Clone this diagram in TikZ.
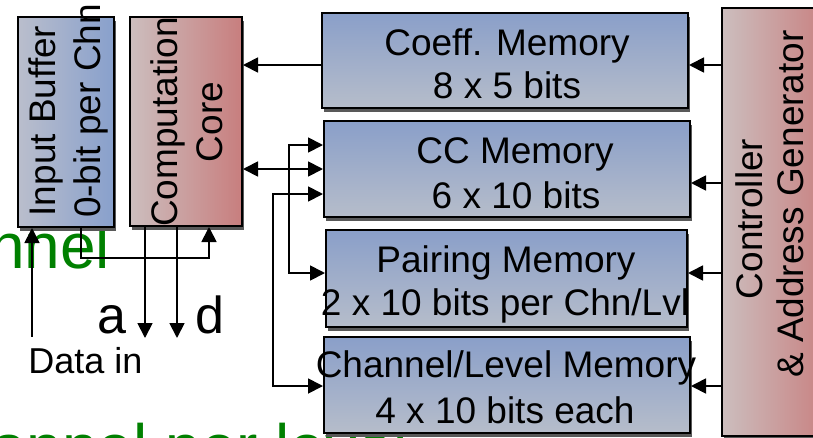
\documentclass[tikz,border=0pt]{standalone}
\usepackage{fontspec}
\setmainfont{Liberation Sans}
\usetikzlibrary{arrows.meta,shadows,calc}
\definecolor{memtop}{RGB}{138,159,201}
\definecolor{membot}{RGB}{182,189,202}
\definecolor{bufl}{RGB}{186,190,204}
\definecolor{bufr}{RGB}{136,160,204}
\definecolor{redl}{RGB}{204,190,190}
\definecolor{redr}{RGB}{200,126,126}
\definecolor{bggreen}{RGB}{0,128,0}
\definecolor{hiblue}{RGB}{200,218,248}
\definecolor{hired}{RGB}{250,205,205}
\tikzset{
 blk/.style={draw=black, line width=2pt, inner sep=0pt, drop shadow={shadow xshift=2pt, shadow yshift=-4pt, fill=black!65, opacity=1}},
 hilite/.style={path picture={\draw[line width=2.5pt, #1] (path picture bounding box.north west) -- (path picture bounding box.north east);}},
 mem/.style={blk, top color=memtop, bottom color=membot, hilite=hiblue},
 bluev/.style={blk, left color=bufl, right color=bufr, hilite=hiblue},
 redv/.style={blk, left color=redl, right color=redr, hilite=hired},
 txt/.style={font=\fontsize{37}{44}\selectfont, inner sep=0pt, anchor=base},
 vtxt/.style={txt, rotate=90},
 lbl/.style={font=\fontsize{52}{60}\selectfont, inner sep=0pt, anchor=base},
 arr/.style={line width=1.8pt, -{Triangle[length=15pt,width=15pt]}},
 darr/.style={line width=1.8pt, {Triangle[length=15pt,width=15pt]}-{Triangle[length=15pt,width=15pt]}},
 bgtxt/.style={font=\fontsize{64}{70}\selectfont, text=bggreen, inner sep=0pt, anchor=base west}
}
\begin{document}
\begin{tikzpicture}[x=1pt,y=-1pt]
\useasboundingbox (0,0) rectangle (813,437);
\clip (0,0) rectangle (813,437);
% background text
\node[bgtxt] (g1) at (-11,268) {nnel};
\node[bgtxt] (g2) at (-9,469) {annel per level};
% boxes
\node[bluev, minimum width=96pt, minimum height=210pt] (inbuf) at (66,122) {};
\node[redv, minimum width=112pt, minimum height=209pt] (core) at (186,121.5) {};
\node[mem, minimum width=366pt, minimum height=95pt] (coeff) at (505,60.5) {};
\node[mem, minimum width=366pt, minimum height=96pt] (cc) at (507,169) {};
\node[mem, minimum width=361pt, minimum height=97pt] (pair) at (506.5,278.5) {};
\node[mem, minimum width=366pt, minimum height=96pt] (chan) at (507,385) {};
\node[redv, minimum width=110pt, minimum height=428pt] (ctrl) at (777,222) {};
% vertical texts
\node[vtxt] (t1) at (55,121) {Input Buffer};
\node[vtxt] (t2) at (100,111) {0-bit per Chn};
\node[vtxt] (t3) at (177,122) {Computation};
\node[vtxt] (t4) at (222,122) {Core};
\node[vtxt] (t5) at (762,219) {Controller};
\node[vtxt] (t6) at (803,204) {\& Address Generator};
% memory texts
\node[txt] (t7) at (507,55) {Coeff. Memory};
\node[txt] (t8) at (507,98) {8 x 5 bits};
\node[txt] (t9) at (515,163) {CC Memory};
\node[txt] (t10) at (516,208) {6 x 10 bits};
\node[txt] (t11) at (506,272) {Pairing Memory};
\node[txt] (t12) at (505,315) {2 x 10 bits per Chn/Lvl};
\node[txt] (t13) at (506,377) {Channel/Level Memory};
\node[txt] (t14) at (505,423) {4 x 10 bits each};
% labels
\node[lbl] (la) at (111.5,333) {a};
\node[lbl] (ld) at (210,333) {d};
\node[font=\fontsize{36}{40}\selectfont, inner sep=0pt, anchor=base] (din) at (85.5,373) {Data in};
% controller -> memories
\coordinate (k1) at ($(coeff.east)+(0,4.5)$);
\coordinate (k2) at ($(cc.east)+(0,14)$);
\coordinate (k3) at ($(pair.east)+(0,-5.5)$);
\coordinate (k4) at ($(chan.east)+(0,1)$);
\foreach \k in {k1,k2,k3,k4} \draw[arr] (\k -| ctrl.west) -- (\k);
% coeff -> core
\coordinate (k0) at ($(coeff.west)+(0,4.5)$);
\draw[arr] (k0) -- (k0 -| core.east);
% core <-> cc
\draw[darr] (core.east |- cc.west) -- (cc.west);
% branch x=290
\coordinate (p1) at ($(cc.west)+(0,-24)$);
\coordinate (p2) at ($(pair.west)+(0,-5.5)$);
\draw[darr] (p1) -- ++(-34,0) |- (p2);
% branch x=274
\coordinate (q1) at ($(cc.west)+(0,25)$);
\coordinate (q2) at ($(chan.west)+(0,1)$);
\draw[darr] (q1) -- ++(-50,0) |- (q2);
% data in
\coordinate (dx) at ($(inbuf.south west)+(15,0)$);
\draw[arr] ($(din.north -| dx)+(0,-10)$) -- (dx);
% input buffer -> core
\draw[arr] ($(inbuf.south west)+(64,0)$) -- ++(0,30) -| ($(core.south west)+(80,0)$);
% outputs a, d
\coordinate (oa) at ($(core.south west)+(16,111)$);
\coordinate (od) at ($(core.south west)+(48,111)$);
\draw[arr] (oa |- core.south) -- (oa);
\draw[arr] (od |- core.south) -- (od);
\end{tikzpicture}
\end{document}
